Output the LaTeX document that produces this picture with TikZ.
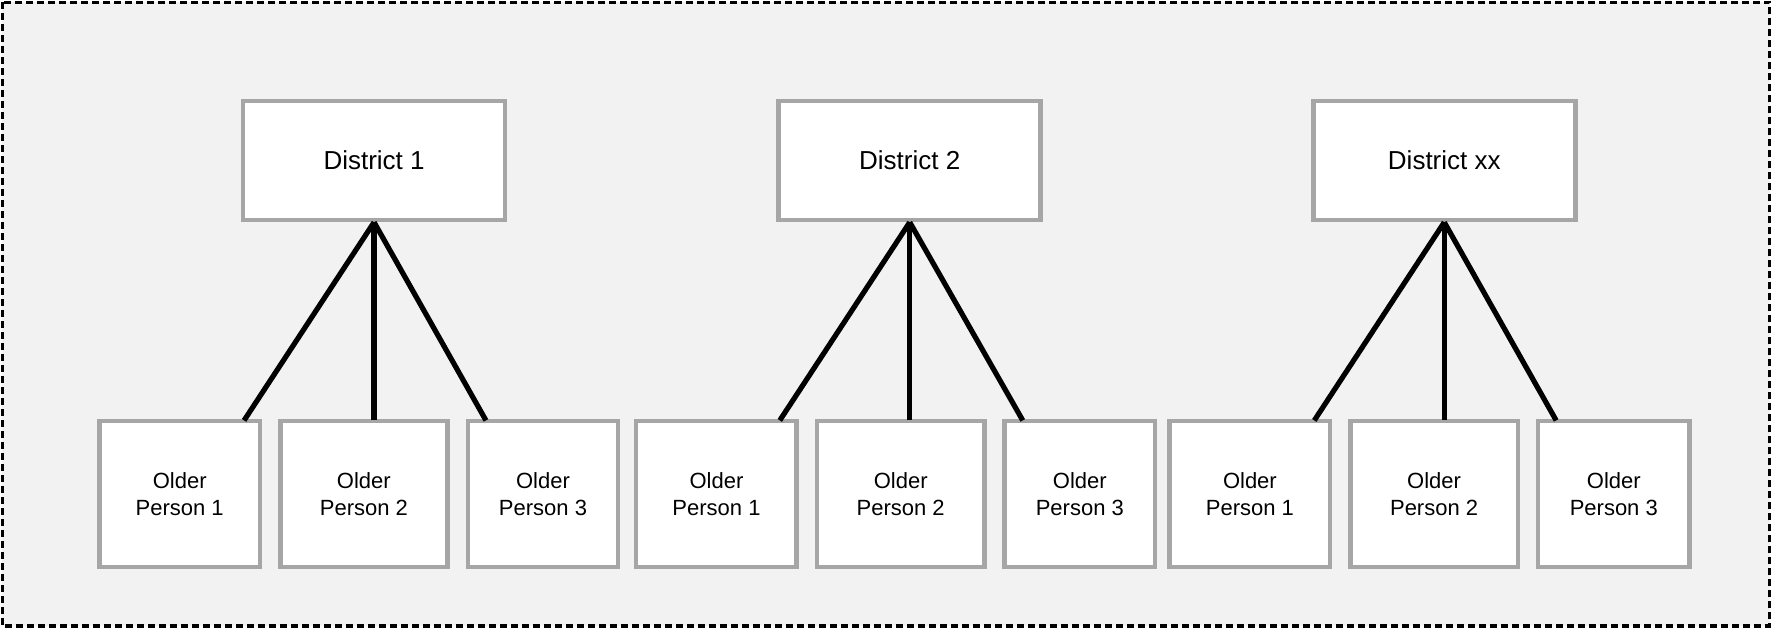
\documentclass[tikz,border=0pt]{standalone}
\usepackage{fontspec}
\setmainfont{Liberation Sans}
\definecolor{boxgray}{RGB}{166,166,166}
\definecolor{bggray}{RGB}{242,242,242}
\tikzset{
  district/.style={draw=boxgray,line width=4.5pt,fill=white,minimum width=262pt,minimum height=119pt,font=\fontsize{26}{30}\selectfont},
  person/.style={draw=boxgray,line width=4.5pt,fill=white,minimum height=146pt,align=center,font=\fontsize{22}{27}\selectfont},
  link/.style={line width=5.2pt}
}
\begin{document}
\begin{tikzpicture}[x=1.1301pt,y=-1.1301pt]
  \useasboundingbox (0,0) rectangle (1568,556);
  \draw[fill=bggray,line width=3.2pt,dash pattern=on 7pt off 4pt] (2,2) rectangle (1566,554);
  % districts
  \node[district] (d1) at (331,142) {District 1};
  \node[district] (d2) at (805,142) {District 2};
  \node[district] (d3) at (1278,142) {District xx};
  % older persons
  \foreach \n/\l/\r in {11/86/232,12/246/398,13/412/549,21/561/707,22/721/873,23/887/1024,31/1033/1179,32/1193/1345,33/1359/1497}{
    \pgfmathsetmacro{\w}{(\r-\l)*1.1301-4.5}
    \pgfmathtruncatemacro{\k}{mod(\n,10)}
    \node[person,minimum width=\w pt] (p\n) at ({(\l+\r)/2},437) {Older\\Person \k};
  }
  % links
  \foreach \g/\a/\b/\c in {1/216/331/430,2/690/805/905,3/1163/1278/1377}{
    \draw[link] (d\g.south) -- (\a,372);
    \draw[link] (d\g.south) -- (\b,372);
    \draw[link] (d\g.south) -- (\c,372);
  }
\end{tikzpicture}
\end{document}
